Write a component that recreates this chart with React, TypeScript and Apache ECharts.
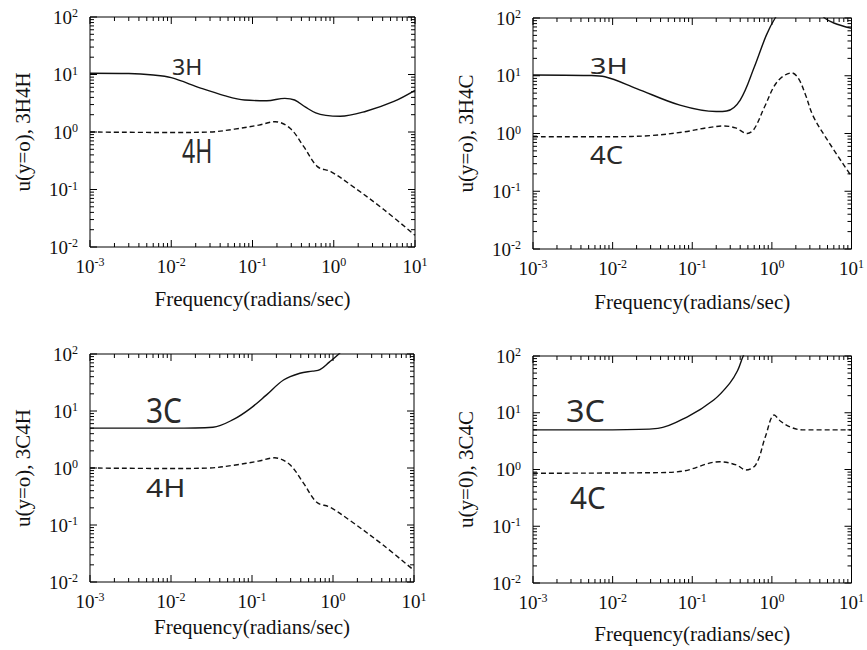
import React, { useEffect, useRef } from "react";
import * as echarts from "echarts";

// ---- axis ranges / tick labels ----
const X_MIN = 0.001;
const X_MAX = 10;
const Y_MIN = 0.01;
const Y_MAX = 100;
const xDecadeExponents = [-3, -2, -1, 0, 1];
const yDecadeExponents = [-2, -1, 0, 1, 2];
const minorMultipliers = [1, 2, 3, 4, 5, 6, 7, 8, 9];
const xAxisTitle = "Frequency(radians/sec)";

// ---- panel 1: 3H4H ----
const freq3H_a = [0.001, 0.003, 0.006, 0.01, 0.023, 0.045, 0.08, 0.15, 0.25, 0.33, 0.45, 0.6, 0.8, 1.2, 2.5, 5.5, 10];
const u3H_a = [10.5, 10.4, 9.8, 8.8, 5.8, 4.3, 3.6, 3.5, 3.85, 3.6, 2.7, 2.15, 1.95, 1.88, 2.3, 3.4, 5.3];
const freq4H = [0.001, 0.01, 0.03, 0.06, 0.12, 0.19, 0.29, 0.43, 0.63, 0.92, 1.62, 4.2, 10];
const u4H = [1.0, 0.98, 1.0, 1.12, 1.32, 1.51, 1.16, 0.55, 0.25, 0.205, 0.12, 0.044, 0.016];

// ---- panel 2: 3H4C ----
const freq3H_b = [0.001, 0.005, 0.008, 0.02, 0.07, 0.2, 0.27, 0.4, 0.6, 0.85, 1.1, 1.6, 2.5, 4.6, 6, 10];
const u3H_b = [10.3, 10.1, 9.6, 6.0, 3.1, 2.4, 2.45, 3.8, 14, 50, 100, 200, 220, 100, 82, 66];
const freq4C_b = [0.001, 0.01, 0.03, 0.08, 0.15, 0.25, 0.35, 0.49, 0.6, 0.81, 1.17, 1.78, 2.15, 2.6, 3.3, 4.9, 10];
const u4C_b = [0.88, 0.88, 0.92, 1.07, 1.25, 1.35, 1.25, 1.0, 1.2, 2.9, 7.9, 11.2, 9.0, 5.0, 2.0, 0.8, 0.18];

// ---- panel 3: 3C4H ----
const freq3C_c = [0.001, 0.01, 0.033, 0.06, 0.095, 0.15, 0.245, 0.39, 0.56, 0.69, 0.9, 1.18, 1.4];
const u3C_c = [5.0, 5.0, 5.2, 7.2, 11, 19, 35, 46, 50, 53, 72, 100, 130];

// ---- panel 4: 3C4C ----
const freq3C_d = [0.001, 0.01, 0.037, 0.087, 0.186, 0.295, 0.37, 0.43, 0.5];
const u3C_d = [5.0, 5.0, 5.3, 8.5, 16.8, 33, 55, 95, 150];
const freq4C_d = [0.001, 0.037, 0.08, 0.22, 0.36, 0.47, 0.63, 0.83, 1.07, 1.3, 1.76, 2.4, 10];
const u4C_d = [0.86, 0.88, 0.95, 1.37, 1.2, 0.98, 1.22, 3.8, 9.1, 7.0, 5.5, 5.0, 5.0];

const SERIF = '"Liberation Serif", "Times New Roman", serif';
const HAND = '"Noto Sans", sans-serif';

type Curve = { x: number[]; y: number[]; dashed: boolean };
type Note = { text: string; x: number; y: number; size: number; sx: number; sy: number };
type Panel = {
  left: number; top: number; width: number; height: number;
  yName: string; xNameGap: number; curves: Curve[]; notes: Note[];
};

const panels: Panel[] = [
  {
    left: 90, top: 17, width: 325, height: 230, yName: "u(y=o), 3H4H", xNameGap: 41,
    curves: [{ x: freq3H_a, y: u3H_a, dashed: false }, { x: freq4H, y: u4H, dashed: true }],
    notes: [
      { text: "3H", x: 172, y: 56, size: 21, sx: 1.1, sy: 1.0 },
      { text: "4H", x: 182, y: 133, size: 21, sx: 1.1, sy: 1.6 },
    ],
  },
  {
    left: 533, top: 18, width: 326, height: 231, yName: "u(y=o), 3H4C", xNameGap: 42,
    curves: [{ x: freq3H_b, y: u3H_b, dashed: false }, { x: freq4C_b, y: u4C_b, dashed: true }],
    notes: [
      { text: "3H", x: 590, y: 55, size: 23, sx: 1.25, sy: 0.95 },
      { text: "4C", x: 590, y: 142, size: 24, sx: 1.15, sy: 1.05 },
    ],
  },
  {
    left: 90, top: 354, width: 324, height: 228, yName: "u(y=o), 3C4H", xNameGap: 34,
    curves: [{ x: freq3C_c, y: u3C_c, dashed: false }, { x: freq4H, y: u4H, dashed: true }],
    notes: [
      { text: "3C", x: 146, y: 392, size: 26, sx: 1.15, sy: 1.35 },
      { text: "4H", x: 146, y: 474, size: 25, sx: 1.2, sy: 1.05 },
    ],
  },
  {
    left: 533, top: 356, width: 325, height: 227, yName: "u(y=0), 3C4C", xNameGap: 40,
    curves: [{ x: freq3C_d, y: u3C_d, dashed: false }, { x: freq4C_d, y: u4C_d, dashed: true }],
    notes: [
      { text: "3C", x: 566, y: 394, size: 27, sx: 1.2, sy: 1.15 },
      { text: "4C", x: 570, y: 482, size: 27, sx: 1.1, sy: 1.15 },
    ],
  },
];

function buildTicks(exps: number[]): number[] {
  const out: number[] = [];
  for (let i = 0; i < exps.length - 1; i++) {
    for (const m of minorMultipliers) out.push(Number((m * Math.pow(10, exps[i])).toPrecision(6)));
  }
  out.push(Math.pow(10, exps[exps.length - 1]));
  return out;
}
const xTicks = buildTicks(xDecadeExponents);
const yTicks = buildTicks(yDecadeExponents);

const labelRich = {
  a: { fontSize: 19, fontFamily: SERIF, color: "#111", lineHeight: 20 },
  b: { fontSize: 12, fontFamily: SERIF, color: "#111", verticalAlign: "top", lineHeight: 12 },
};
const powLabel = (v: number) => `{a|10}{b|${Math.round(Math.log10(v))}}`;

function isMajor(v: number) {
  const l = Math.log10(v);
  return Math.abs(l - Math.round(l)) < 1e-6;
}

function buildOption() {
  const grid: any[] = [];
  const xAxis: any[] = [];
  const yAxis: any[] = [];
  const series: any[] = [];
  panels.forEach((p, i) => {
    grid.push({
      left: p.left, top: p.top, width: p.width, height: p.height,
      show: true, borderColor: "#000",
    });
    xAxis.push({
      type: "log", gridIndex: i, min: X_MIN, max: X_MAX,
      axisLine: { show: false }, axisTick: { show: false }, splitLine: { show: false },
      axisLabel: { formatter: powLabel, rich: labelRich, margin: 9 },
      name: xAxisTitle, nameLocation: "middle", nameGap: p.xNameGap,
      nameTextStyle: { fontFamily: SERIF, fontSize: 21, color: "#111" },
    });
    yAxis.push({
      type: "log", gridIndex: i, min: Y_MIN, max: Y_MAX,
      axisLine: { show: false }, axisTick: { show: false }, splitLine: { show: false },
      axisLabel: { formatter: powLabel, rich: labelRich, margin: 12 },
      name: p.yName, nameLocation: "middle", nameGap: 57,
      nameTextStyle: { fontFamily: SERIF, fontSize: 21, color: "#111" },
    });
    p.curves.forEach((c) => {
      series.push({
        type: "line", xAxisIndex: i, yAxisIndex: i, symbol: "none", smooth: 0.35,
        data: c.x.map((x, k) => [x, c.y[k]]),
        lineStyle: { color: "#111", width: 1.4, type: c.dashed ? [5, 3] : "solid" },
      });
    });
  });
  return { animation: false, grid, xAxis, yAxis, series };
}

// tick marks: positions come from the chart's own log scales via convertToPixel
function buildGraphic(chart: echarts.ECharts) {
  const els: any[] = [];
  const style = { stroke: "#000", lineWidth: 1 };
  panels.forEach((p, i) => {
    const finder: any = { gridIndex: i };
    xTicks.forEach((v) => {
      const len = isMajor(v) ? 7 : 4;
      const b = chart.convertToPixel(finder, [v, Y_MIN]) as number[];
      const t = chart.convertToPixel(finder, [v, Y_MAX]) as number[];
      if (!b || !t) return;
      els.push({ type: "line", silent: true, z: 10, shape: { x1: b[0], y1: b[1], x2: b[0], y2: b[1] - len }, style });
      els.push({ type: "line", silent: true, z: 10, shape: { x1: t[0], y1: t[1], x2: t[0], y2: t[1] + len }, style });
    });
    yTicks.forEach((v) => {
      const len = isMajor(v) ? 7 : 4;
      const l = chart.convertToPixel(finder, [X_MIN, v]) as number[];
      const r = chart.convertToPixel(finder, [X_MAX, v]) as number[];
      if (!l || !r) return;
      els.push({ type: "line", silent: true, z: 10, shape: { x1: l[0], y1: l[1], x2: l[0] + len, y2: l[1] }, style });
      els.push({ type: "line", silent: true, z: 10, shape: { x1: r[0], y1: r[1], x2: r[0] - len, y2: r[1] }, style });
    });
    p.notes.forEach((n) => {
      els.push({
        type: "text", x: n.x, y: n.y, scaleX: n.sx, scaleY: n.sy, z: 10,
        style: { text: n.text, fontFamily: HAND, fontSize: n.size, fill: "#2a2a2a", align: "left", verticalAlign: "top" },
      });
    });
  });
  return els;
}

export default function App() {
  const ref = useRef<HTMLDivElement>(null);
  useEffect(() => {
    if (!ref.current) return;
    const chart = echarts.init(ref.current, null, { renderer: "svg" });
    chart.setOption(buildOption() as any);
    chart.setOption({ graphic: { elements: buildGraphic(chart) } } as any);
    return () => chart.dispose();
  }, []);
  return (
    <div
      ref={ref}
      style={{ position: "absolute", left: 0, top: 0, width: 867, height: 650, background: "#fff" }}
    />
  );
}
